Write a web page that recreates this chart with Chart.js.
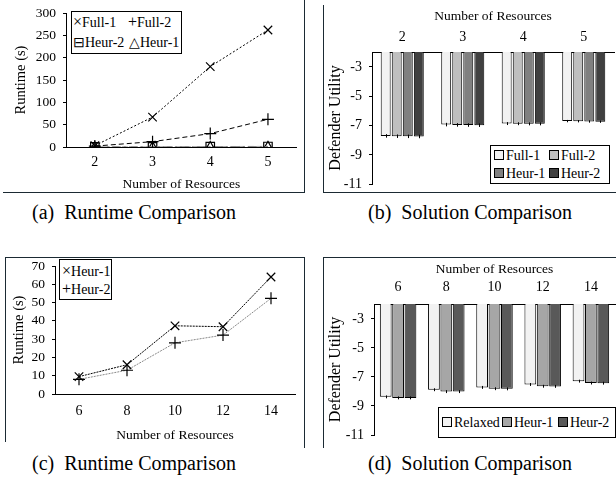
<!DOCTYPE html>
<html>
<head>
<meta charset="utf-8">
<script src="https://cdn.jsdelivr.net/npm/chart.js@4"></script>
<style>
  body { margin: 0; width: 616px; height: 483px; position: relative; overflow: hidden; background: #fff;
         font-family: "Liberation Serif", "Times New Roman", serif; color: #000; }
  canvas { position: absolute; }
  .f { position: absolute; background: #1b2a33; z-index: 2; }
  .cap { position: absolute; width: 300px; text-align: center; font-size: 20px; line-height: 20px; }
  .lg { position: absolute; border: 1px solid #000; background: #fff; box-sizing: border-box; z-index: 3; }
  .lg span { position: absolute; white-space: nowrap; line-height: 16px; }
  .sw { display: inline-block; width: 8px; height: 8px; border: 1px solid #000; margin-right: 2px; vertical-align: 0px; }
  .mk { font-size: 16px; font-weight: normal; }
  .yl { position: absolute; font-size: 14px; line-height: 16px; text-align: right; white-space: nowrap; z-index: 5; }
</style>
</head>
<body>
<canvas id="a" width="304" height="194" style="left:0;top:0"></canvas>
<canvas id="b" width="293" height="192" style="left:323px;top:0"></canvas>
<canvas id="c" width="299" height="191" style="left:5px;top:257px"></canvas>
<canvas id="d" width="293" height="192" style="left:323px;top:257px"></canvas>

<!-- panel frames -->
<div class="f" style="left:304px;top:0;width:1px;height:193px"></div>
<div class="f" style="left:3px;top:192px;width:302px;height:1px"></div>
<div class="f" style="left:323px;top:5px;width:1px;height:188px"></div>
<div class="f" style="left:323px;top:192px;width:293px;height:1px"></div>
<div class="f" style="left:5px;top:257px;width:300px;height:1px"></div>
<div class="f" style="left:5px;top:257px;width:1px;height:185px"></div>
<div class="f" style="left:304px;top:257px;width:1px;height:191px"></div>
<div class="f" style="left:323px;top:257px;width:293px;height:1px"></div>
<div class="f" style="left:323px;top:257px;width:1px;height:191px"></div>

<!-- legends -->
<div class="lg" style="left:71px;top:11px;width:111px;height:43px;font-size:14px">
  <span style="left:1px;top:2px"><b class="mk">×</b>Full-1</span>
  <span style="left:56px;top:2px"><b class="mk">+</b>Full-2</span>
  <span style="left:1px;top:23px">⊟Heur-2</span>
  <span style="left:57px;top:23px">△Heur-1</span>
</div>
<div class="lg" style="left:490px;top:145px;width:120px;height:39px;font-size:14px">
  <span style="left:3px;top:2px"><i class="sw" style="background:#f2f2f2"></i>Full-1</span>
  <span style="left:58px;top:2px"><i class="sw" style="background:#bfbfbf"></i>Full-2</span>
  <span style="left:3px;top:20px"><i class="sw" style="background:#808080"></i>Heur-1</span>
  <span style="left:58px;top:20px"><i class="sw" style="background:#404040"></i>Heur-2</span>
</div>
<div class="lg" style="left:59px;top:259px;width:53px;height:41px;font-size:14px">
  <span style="left:2px;top:3px"><b class="mk">×</b>Heur-1</span>
  <span style="left:2px;top:21px"><b class="mk">+</b>Heur-2</span>
</div>
<div class="lg" style="left:438px;top:407px;width:178px;height:31px;font-size:14px">
  <span style="left:3px;top:7px"><i class="sw" style="background:#f2f2f2"></i>Relaxed</span>
  <span style="left:63px;top:7px"><i class="sw" style="background:#a6a6a6"></i>Heur-1</span>
  <span style="left:119px;top:7px"><i class="sw" style="background:#595959"></i>Heur-2</span>
</div>

<div class="cap" style="left:-16px;top:202px">(a)&nbsp; Runtime Comparison</div>
<div class="cap" style="left:320px;top:202px">(b)&nbsp; Solution Comparison</div>
<div class="cap" style="left:-16px;top:453px">(c)&nbsp; Runtime Comparison</div>
<div class="cap" style="left:320px;top:453px">(d)&nbsp; Solution Comparison</div>

<script>
// (a) runtime, 2-5 resources
const resA = ['2', '3', '4', '5']
const full1A = [3, 67, 180, 262]
const full2A = [2, 12, 30, 62]
const heur2A = [0.3, 0.5, 0.8, 1.1]
const heur1A = [0.4, 0.7, 1.0, 1.4]
const yTicksA = [0, 50, 100, 150, 200, 250, 300]

// (b) defender utility, 2-5 resources
const resB = ['2', '3', '4', '5']
const full1B = [-7.72, -6.95, -6.88, -6.71]
const full2B = [-7.74, -6.97, -6.89, -6.72]
const heur1B = [-7.75, -6.98, -6.9, -6.74]
const heur2B = [-7.76, -6.99, -6.9, -6.75]
const errB = [0.12, 0.12, 0.1, 0.08]
const yTicksB = [-11, -9, -7, -5, -3]

// (c) runtime, 6-14 resources
const resC = ['6', '8', '10', '12', '14']
const heur1C = [9.5, 16, 37.3, 36.8, 64]
const heur2C = [8, 13, 28, 32.2, 52.3]
const yTicksC = [0, 10, 20, 30, 40, 50, 60, 70]

// (d) defender utility, 6-14 resources
const resD = ['6', '8', '10', '12', '14']
const relaxedD = [-8.38, -7.89, -7.73, -7.53, -7.3]
const heur1D = [-8.45, -8.02, -7.82, -7.65, -7.43]
const heur2D = [-8.45, -8.02, -7.83, -7.66, -7.44]
const errD = [0.1, 0.1, 0.1, 0.1, 0.1]
const yTicksD = [-11, -9, -7, -5, -3]

Chart.defaults.font.family = '"Liberation Serif", "Times New Roman", serif'
Chart.defaults.color = '#000'
Chart.defaults.animation = false
Chart.defaults.responsive = false
Chart.defaults.plugins.legend.display = false
Chart.defaults.plugins.tooltip.enabled = false

function tickList (list) {
  return list.map(v => ({ value: v, label: String(v) }))
}

// little vertical error marks at the end of every bar
const errorBars = {
  id: 'errorBars',
  afterDatasetsDraw (chart) {
    const ctx = chart.ctx
    const y = chart.scales.y
    chart.data.datasets.forEach((ds, i) => {
      chart.getDatasetMeta(i).data.forEach((bar, j) => {
        const v = ds.data[j]
        const e = ds.errors[j]
        const x = Math.round(bar.x) + 0.5
        ctx.save()
        ctx.beginPath()
        ctx.strokeStyle = '#000'
        ctx.lineWidth = 1
        ctx.moveTo(x, y.getPixelForValue(v + e))
        ctx.lineTo(x, y.getPixelForValue(v - e))
        ctx.stroke()
        ctx.restore()
      })
    })
  }
}

function bar (label, data, color, errors, bp, cp) {
  return { label, data, errors, base: -2, backgroundColor: color, borderColor: '#000', borderWidth: 1,
    barPercentage: bp, categoryPercentage: cp }
}

function line (label, data, opts) {
  return Object.assign({ label, data, borderColor: '#000', borderWidth: 1, pointBorderColor: '#000',
    pointBackgroundColor: 'rgba(0,0,0,0)', pointBorderWidth: 1.2, pointRadius: 5, tension: 0 }, opts)
}

const axisY = (min, max, ticks, width, tickSize, title, titleSize, titlePad, tickColor) => ({
  min, max,
  afterBuildTicks: s => { s.ticks = tickList(ticks) },
  afterFit: s => {
    s.width = width
    s.paddingTop = 0
    s.paddingBottom = 0
    s.ticks = tickList(ticks)
  },
  grid: { drawOnChartArea: false, tickLength: 3, color: '#000' },
  border: { color: '#000' },
  ticks: { font: { size: tickSize }, padding: 7, autoSkip: false, color: tickColor || '#000' },
  title: { display: true, text: title, font: { size: titleSize }, padding: { top: titlePad, bottom: 0 } }
})

const axisX = (position, height, tickPad, titlePad) => ({
  position,
  offset: true,
  afterFit: s => {
    s.height = height
    s.paddingLeft = 0
    s.paddingRight = 0
  },
  grid: { display: true, drawOnChartArea: false, drawTicks: false },
  border: { color: '#000' },
  ticks: { font: { size: 14 }, padding: tickPad, autoSkip: false, maxRotation: 0 },
  title: { display: true, text: 'Number of Resources', font: { size: 13.5 }, padding: titlePad }
})

// utility-axis labels as page text, placed with the chart's own y scale
function htmlYLabels (chart, values, left, top) {
  const s = chart.scales.y
  values.forEach(v => {
    const el = document.createElement('div')
    el.className = 'yl'
    el.textContent = String(v)
    el.style.right = (616 - (left + s.right - 10)) + 'px'
    el.style.top = (top + s.getPixelForValue(v) - 8) + 'px'
    document.body.appendChild(el)
  })
}

new Chart(document.getElementById('a'), {
  type: 'line',
  data: {
    labels: resA,
    datasets: [
      line('Full-1', full1A, { borderDash: [2, 2], pointStyle: 'crossRot', pointRadius: 6 }),
      line('Full-2', full2A, { borderDash: [5, 3], pointStyle: 'cross', pointRadius: 6 }),
      line('Heur-2', heur2A, { borderColor: '#888', borderDash: [9, 3, 2, 3], pointStyle: 'rect', pointRadius: 6 }),
      line('Heur-1', heur1A, { borderColor: '#aaa', borderDash: [6, 3], pointStyle: 'triangle', pointRadius: 5 })
    ]
  },
  options: {
    layout: { padding: { top: 13, right: 6, left: 0, bottom: 0 } },
    scales: {
      x: axisX('bottom', 47, 7, { top: 0, bottom: 1 }),
      y: axisY(0, 300, yTicksA, 66, 13.5, 'Runtime (s)', 14.5, 12)
    }
  }
})

const chartB = new Chart(document.getElementById('b'), {
  type: 'bar',
  data: {
    labels: resB,
    datasets: [
      bar('Full-1', full1B, '#f2f2f2', errB, 0.9, 0.73),
      bar('Full-2', full2B, '#bfbfbf', errB, 0.9, 0.73),
      bar('Heur-1', heur1B, '#808080', errB, 0.9, 0.73),
      bar('Heur-2', heur2B, '#404040', errB, 0.9, 0.73)
    ]
  },
  options: {
    layout: { padding: { top: 0, right: 2, left: 0, bottom: 8 } },
    scales: {
      x: axisX('top', 52, 6, { top: 8, bottom: 0 }),
      y: axisY(-11, -2, yTicksB, 49, 14, 'Defender Utility', 16, 3, 'rgba(0,0,0,0)')
    }
  },
  plugins: [errorBars]
})
htmlYLabels(chartB, yTicksB, 323, 0)

new Chart(document.getElementById('c'), {
  type: 'line',
  data: {
    labels: resC,
    datasets: [
      line('Heur-1', heur1C, { borderDash: [2, 1], pointStyle: 'crossRot', pointRadius: 6 }),
      line('Heur-2', heur2C, { borderColor: '#888', borderDash: [2, 1], pointStyle: 'cross', pointRadius: 6 })
    ]
  },
  options: {
    layout: { padding: { top: 9, right: 9, left: 0, bottom: 0 } },
    scales: {
      x: axisX('bottom', 54, 9, { top: 0, bottom: 4 }),
      y: axisY(0, 70, yTicksC, 50, 13.5, 'Runtime (s)', 14.5, 5)
    }
  }
})

const chartD = new Chart(document.getElementById('d'), {
  type: 'bar',
  data: {
    labels: resD,
    datasets: [
      bar('Relaxed', relaxedD, '#f2f2f2', errD, 0.95, 0.77),
      bar('Heur-1', heur1D, '#a6a6a6', errD, 0.95, 0.77),
      bar('Heur-2', heur2D, '#595959', errD, 0.95, 0.77)
    ]
  },
  options: {
    layout: { padding: { top: 0, right: 1, left: 0, bottom: 14 } },
    scales: {
      x: axisX('top', 47, 8, { top: 4, bottom: 0 }),
      y: axisY(-11, -2, yTicksD, 51, 14, 'Defender Utility', 16, 3, 'rgba(0,0,0,0)')
    }
  },
  plugins: [errorBars]
})
htmlYLabels(chartD, yTicksD, 323, 257)
</script>
</body>
</html>
